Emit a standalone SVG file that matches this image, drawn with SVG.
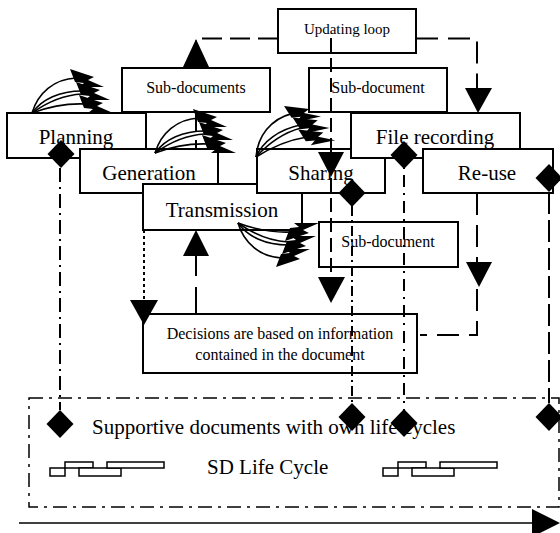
<svg xmlns="http://www.w3.org/2000/svg" xmlns:xlink="http://www.w3.org/1999/xlink" width="560" height="533" viewBox="0 0 560 533">
<style>
.box{fill:#fff;stroke:#000;stroke-width:2}
.big{font-family:"Liberation Serif","Times New Roman",serif;font-size:21px;fill:#000;text-anchor:middle}
.small{font-family:"Liberation Serif","Times New Roman",serif;font-size:16px;fill:#000;text-anchor:middle}
.ln{fill:none;stroke:#000;stroke-width:2}
.dash{stroke-dasharray:20,8}
.dash2{stroke-dasharray:14,6}
.dash3{stroke-dasharray:22,10}
.dot{stroke-dasharray:3,3}
.dd1{stroke-dasharray:14,5,2,5}
.dd2{stroke-dasharray:10,4,2,4}
.dd3{stroke-dasharray:2,6,12,6}
.dd4{stroke-dasharray:22,6}
.head{fill:#000;stroke:none}
.curve{fill:none;stroke:#000;stroke-width:1.6}
.lc{fill:#fff;stroke:#000;stroke-width:1.5}
</style>
<defs>
<g id="bolts">
<path class="curve" d="M0,0 C6,-20 22,-34 44,-35"/>
<path class="curve" d="M0,0 C10,-14 28,-22 50,-22"/>
<path class="curve" d="M0,0 C14,-10 30,-18 50,-19"/>
<path class="curve" d="M0,0 C16,-6 34,-10 54,-9"/>
<polygon class="head" points="38,-44 62,-36 56,-33 72,-26 47,-26 52,-30 43,-31"/>
<polygon class="head" points="44,-31 68,-23 62,-20 78,-13 53,-13 58,-17 49,-18"/>
<polygon class="head" points="47,-18 71,-10 65,-7 81,0 56,0 61,-4 52,-5"/>
</g>
<polygon id="dia" points="0,-14 13.5,0 0,14 -13.5,0"/>
</defs>

<g id="node-updating"><rect class="box" x="278" y="9" width="138" height="44"/><text class="small" x="347" y="34" style="font-size:15px">Updating loop</text></g>
<g id="node-subdocs"><rect class="box" x="122" y="68" width="148" height="44"/><text class="small" x="196" y="93">Sub-documents</text></g>
<g id="node-subdoc1"><rect class="box" x="309" y="68" width="138" height="44"/><text class="small" x="378" y="93">Sub-document</text></g>
<g id="node-planning"><rect class="box" x="7" y="113" width="139" height="45"/><text class="big" x="76" y="144">Planning</text></g>
<g id="node-generation"><rect class="box" x="80" y="149" width="138" height="44"/><text class="big" x="149" y="180">Generation</text></g>
<g id="node-transmission"><rect class="box" x="143" y="184" width="159" height="46"/><text class="big" x="222" y="217">Transmission</text></g>
<g id="node-sharing"><rect class="box" x="257" y="149" width="128" height="44"/><text class="big" x="321" y="180">Sharing</text></g>
<g id="node-filerecording"><rect class="box" x="351" y="113" width="169" height="45"/><text class="big" x="435" y="144">File recording</text></g>
<g id="node-reuse"><rect class="box" x="423" y="149" width="130" height="44"/><text class="big" x="487" y="180">Re-use</text></g>
<g id="node-subdoc2"><rect class="box" x="319" y="222" width="139" height="45"/><text class="small" x="388" y="247">Sub-document</text></g>
<g id="node-decisions"><rect class="box" x="143" y="314" width="274" height="59"/><text class="small" x="280" y="339">Decisions are based on information</text><text class="small" x="280" y="360">contained in the document</text></g>

<g id="connectors">
<use xlink:href="#bolts" transform="translate(32,113)"/>
<use xlink:href="#bolts" transform="translate(155,153)"/>
<use xlink:href="#bolts" transform="translate(256,157) rotate(-12)"/>
<use xlink:href="#bolts" transform="translate(238,223) scale(1,-1)"/>

<path class="ln dash" d="M278,38.5 H196 V67"/>
<polygon class="head" points="183,67 196,39 209,67"/>
<path class="ln dash" d="M196,112 V149"/>
<path class="ln dash3" d="M416,38.5 H477 V90"/>
<polygon class="head" points="465,88 492,88 478,113"/>
<path class="ln dash2" d="M331,38 V290"/>
<polygon class="head" points="318,152 344,152 331,177"/>
<polygon class="head" points="318,277 345,277 331,303"/>
<path class="ln dash3" d="M477,193 V335 H420"/>
<polygon class="head" points="466,262 492,262 479,287"/>
<path class="ln dot" d="M144,230 V302"/>
<polygon class="head" points="130,300 158,300 144,325"/>
<path class="ln" style="stroke-dasharray:26,11" d="M196,313 V250"/>
<polygon class="head" points="183,256 209,256 196,230"/>

<path class="ln dd1" d="M60,168 V410"/>
<path class="ln dd2" d="M352,206 V403"/>
<path class="ln dd3" d="M404,167 V410"/>
<path class="ln dd4" d="M549,192 V403"/>

<use xlink:href="#dia" class="head" x="61" y="154"/>
<use xlink:href="#dia" class="head" x="404" y="155"/>
<use xlink:href="#dia" class="head" x="352" y="193"/>
<use xlink:href="#dia" class="head" x="549" y="178"/>
<use xlink:href="#dia" class="head" x="352" y="417"/>
<use xlink:href="#dia" class="head" x="404" y="423"/>
<use xlink:href="#dia" class="head" x="549" y="417"/>

<path class="ln" style="stroke-width:1.5" d="M19,523 H535"/>
<polygon class="head" points="532,509 560,523 532,537"/>
</g>

<g id="legend">
<rect x="29" y="398" width="530" height="109" fill="none" stroke="#000" stroke-width="1.5" stroke-dasharray="14,6,3,6"/>
<use xlink:href="#dia" class="head" x="60" y="424"/>
<text class="big" x="92" y="434" style="text-anchor:start">Supportive documents with own life cycles</text>
<g id="lc1">
<rect class="lc" x="50" y="468" width="15" height="8"/>
<rect class="lc" x="65" y="462" width="28" height="6"/>
<rect class="lc" x="79" y="468" width="42" height="8"/>
<rect class="lc" x="107" y="462" width="57" height="6"/>
</g>
<use xlink:href="#lc1" x="333" y="0"/>
<text class="big" x="207" y="474" style="text-anchor:start">SD Life Cycle</text>
</g>
</svg>
